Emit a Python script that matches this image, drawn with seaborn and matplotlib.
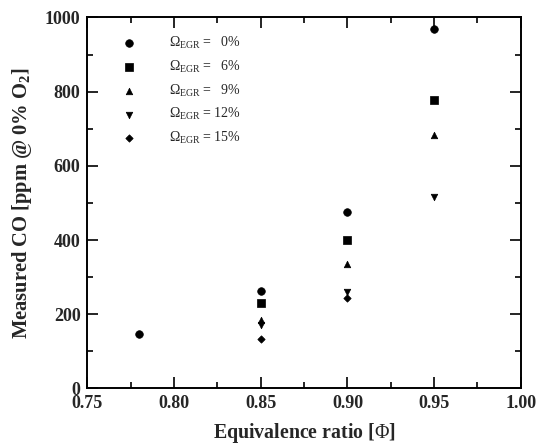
import numpy as np
import pandas as pd
import matplotlib
matplotlib.use("Agg")
import matplotlib.pyplot as plt
import seaborn as sns
from matplotlib.ticker import MultipleLocator, FormatStrFormatter

# Equivalence ratio and measured CO for each EGR rate
phi = [0.78, 0.85, 0.90, 0.95]
co_egr0 = [147, 263, 475, 970]
co_egr6 = [np.nan, 231, 399, 777]
co_egr9 = [np.nan, 185, 336, 683]
co_egr12 = [np.nan, 170, 259, 517]
co_egr15 = [np.nan, 134, 243, np.nan]

egr_labels = [
    r"$\Omega_{\mathrm{EGR}}$ =   0%",
    r"$\Omega_{\mathrm{EGR}}$ =   6%",
    r"$\Omega_{\mathrm{EGR}}$ =   9%",
    r"$\Omega_{\mathrm{EGR}}$ = 12%",
    r"$\Omega_{\mathrm{EGR}}$ = 15%",
]
series = [co_egr0, co_egr6, co_egr9, co_egr12, co_egr15]
marker_shapes = ["o", "s", "^", "v", "D"]

rows = []
for lab, vals in zip(egr_labels, series):
    for x, y in zip(phi, vals):
        rows.append({"phi": x, "co": y, "egr": lab})
df = pd.DataFrame(rows)

sns.set_style("ticks")
plt.rcParams["font.family"] = ["Liberation Serif", "DejaVu Serif"]
plt.rcParams["mathtext.fontset"] = "custom"
plt.rcParams["mathtext.rm"] = "Liberation Serif"
plt.rcParams["mathtext.it"] = "Liberation Serif:italic"
plt.rcParams["mathtext.bf"] = "Liberation Serif:bold"

fig = plt.figure(figsize=(5.38, 4.47), dpi=100)
ax = fig.add_axes([0.1626, 0.131, 0.968 - 0.1626, 0.961 - 0.131])

sizes = {"o": 30, "s": 28, "^": 22, "v": 22, "D": 14}
for lab, m in zip(egr_labels, marker_shapes):
    sub = df[df["egr"] == lab]
    sns.scatterplot(data=sub, x="phi", y="co", marker=m, color="black",
                    s=sizes[m], edgecolor="black", linewidth=0.5,
                    label=lab, ax=ax)

ax.set_xlim(0.75, 1.00)
ax.set_ylim(0, 1000)
ax.xaxis.set_major_locator(MultipleLocator(0.05))
ax.xaxis.set_minor_locator(MultipleLocator(0.025))
ax.yaxis.set_major_locator(MultipleLocator(200))
ax.yaxis.set_minor_locator(MultipleLocator(100))
ax.xaxis.set_major_formatter(FormatStrFormatter("%.2f"))

ax.tick_params(which="both", direction="in", top=True, right=True,
               width=1.2, color="black")
ax.tick_params(which="major", length=8, labelsize=13, pad=5)
ax.tick_params(which="minor", length=4.5)
for lbl in ax.get_xticklabels() + ax.get_yticklabels():
    lbl.set_fontweight("bold")
for sp in ax.spines.values():
    sp.set_linewidth(1.4)
    sp.set_color("black")

ax.set_xlabel(r"Equivalence ratio [$\Phi$]", fontsize=14.3, fontweight="bold",
              labelpad=6)
ax.set_ylabel(r"Measured CO [ppm @ 0% O$_\mathbf{2}$]", fontsize=14.8,
              fontweight="bold", labelpad=8)

leg = ax.legend(loc="upper left", bbox_to_anchor=(0.045, 0.975), frameon=False,
                fontsize=10, handletextpad=1.9, labelspacing=0.55,
                borderaxespad=0.2)

fig.savefig("out.png", dpi=100)
